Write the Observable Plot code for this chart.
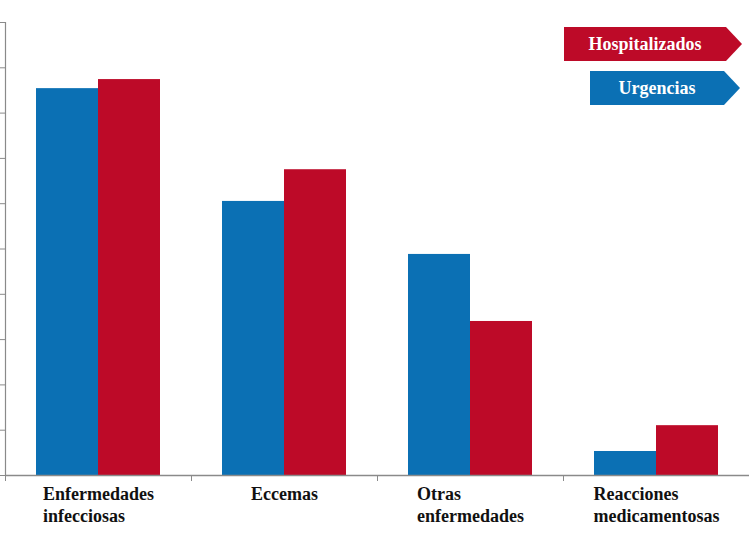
<!DOCTYPE html>
<html>
<head>
<meta charset="utf-8">
<script src="https://cdn.jsdelivr.net/npm/d3@7"></script>
<script src="https://cdn.jsdelivr.net/npm/@observablehq/plot@0.6"></script>
<style>
  html, body { margin: 0; padding: 0; background: #fff; }
  #wrap { position: relative; width: 750px; height: 542px; }
  .lg { position: absolute; height: 34px; color: #fff;
        font: bold 18px "Liberation Serif", serif;
        display: flex; align-items: center; justify-content: center;
        box-sizing: border-box; padding-right: 16px;
        clip-path: polygon(0 0, calc(100% - 16px) 0, 100% 50%, calc(100% - 16px) 100%, 0 100%); }
</style>
</head>
<body>
<div id="wrap"></div>
<script>
const categories = ["Enfermedades infecciosas", "Eccemas", "Otras enfermedades", "Reacciones medicamentosas"];
const tickLabels = ["Enfermedades\ninfecciosas", "Eccemas", "Otras\nenfermedades", "Reacciones\nmedicamentosas"];
const urgencias = [85.4, 60.5, 48.8, 5.3];
const hospitalizados = [87.4, 67.5, 34.0, 11.0];
const seriesNames = ["Hospitalizados", "Urgencias"];
const yTicks = d3.range(0, 101, 10);

const BLUE = "#0b70b4";
const RED = "#bd0a28";
const AXIS = "#8a8a8a";
const FONT = '"Liberation Serif", serif';

const urgData = categories.map((c, i) => ({cat: c, value: urgencias[i]}));
const hosData = categories.map((c, i) => ({cat: c, value: hospitalizados[i]}));

const ctx = document.createElement("canvas").getContext("2d");
ctx.font = `bold 18px ${FONT}`;
const blockWidth = (s) => Math.max(...s.split("\n").map(l => ctx.measureText(l).width));

const labelMarks = categories.map((c, i) =>
  Plot.text([c], {
    x: d => d, y: () => 0, text: () => tickLabels[i],
    textAnchor: "start", lineAnchor: "top", lineHeight: 1.22,
    dx: -blockWidth(tickLabels[i]) / 2, dy: 9,
    fontSize: 18, fontWeight: "bold", fontFamily: FONT, fill: "#111"
  })
);

const chart = Plot.plot({
  width: 750, height: 542,
  marginTop: 22, marginBottom: 67, marginLeft: 5, marginRight: 1,
  style: {background: "#fff", fontFamily: FONT},
  x: {domain: categories, padding: 0, axis: null},
  y: {domain: [0, 100], axis: null},
  marks: [
    Plot.barY(urgData, {x: "cat", y: "value", fill: BLUE, insetLeft: 31, insetRight: 93}),
    Plot.barY(hosData, {x: "cat", y: "value", fill: RED, insetLeft: 93, insetRight: 31}),
    Plot.frame({anchor: "left", stroke: AXIS, strokeWidth: 1.2}),
    Plot.ruleY([0], {stroke: AXIS, strokeWidth: 1.5}),
    Plot.axisY({ticks: yTicks, tickSize: 5, tickFormat: () => "", label: null, stroke: AXIS}),
    Plot.axisX({ticks: categories, tickSize: 6, tickFormat: () => "", label: null, stroke: AXIS, dx: -93}),
    ...labelMarks
  ]
});

const wrap = document.getElementById("wrap");
wrap.appendChild(chart);

const legendSpec = [
  {name: seriesNames[0], color: RED, left: 564, top: 27, width: 178},
  {name: seriesNames[1], color: BLUE, left: 590, top: 71, width: 150}
];
for (const s of legendSpec) {
  const d = document.createElement("div");
  d.className = "lg";
  d.style.background = s.color;
  d.style.left = s.left + "px";
  d.style.top = s.top + "px";
  d.style.width = s.width + "px";
  d.textContent = s.name;
  wrap.appendChild(d);
}
</script>
</body>
</html>
